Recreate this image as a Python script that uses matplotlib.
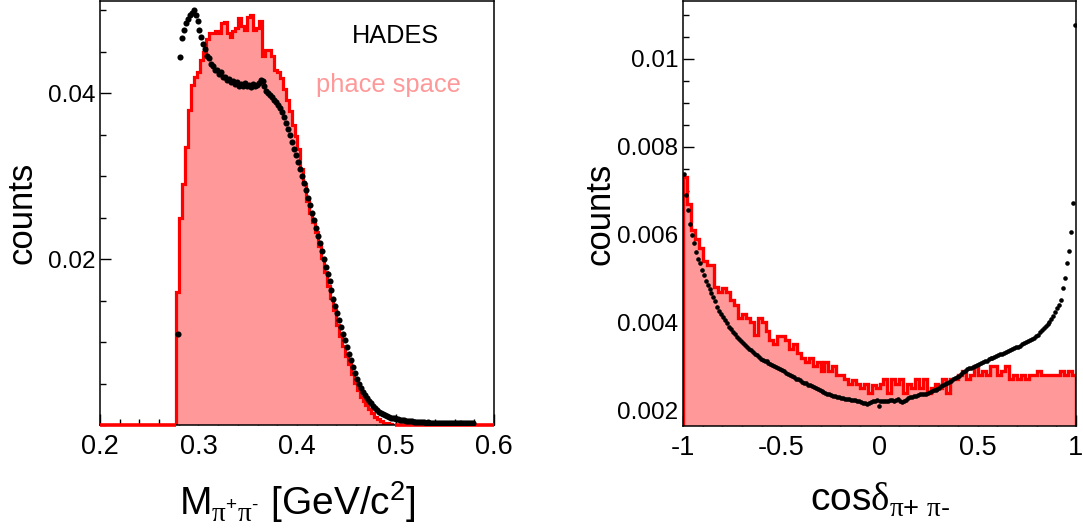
import numpy as np
import matplotlib
matplotlib.use("Agg")
import matplotlib.pyplot as plt
from matplotlib.ticker import MultipleLocator, FixedLocator, FuncFormatter

plt.rcParams['font.family'] = ['Liberation Sans', 'DejaVu Sans']
plt.rcParams['mathtext.fontset'] = 'custom'
plt.rcParams['mathtext.rm'] = 'Liberation Sans'
plt.rcParams['mathtext.it'] = 'Liberation Sans:italic'
plt.rcParams['mathtext.sf'] = 'Liberation Serif'

# ---------------- data: left panel (invariant mass) ----------------
mass_ps_start = 0.2775      # first bin edge of phase-space histogram
mass_ps_width = 0.003       # bin width
mass_ps = [
    0.0160, 0.0250, 0.0290, 0.0335, 0.0380, 0.0410, 0.0420, 0.0425, 0.0440, 0.0450,
    0.0465, 0.0472, 0.0472, 0.0475, 0.0473, 0.0485, 0.0486, 0.0472, 0.0468, 0.0475,
    0.0478, 0.0490, 0.0481, 0.0476, 0.0492, 0.0494, 0.0476, 0.0478, 0.0487, 0.0445,
    0.0452, 0.0452, 0.0445, 0.0428, 0.0425, 0.0418, 0.0405, 0.0392, 0.0378, 0.0362,
    0.0348, 0.0333, 0.0308, 0.0290, 0.0270, 0.0255, 0.0245, 0.0232, 0.0216, 0.0201,
    0.0184, 0.0168, 0.0153, 0.0138, 0.0121, 0.0107, 0.0095, 0.0083, 0.0073, 0.0062,
    0.0051, 0.0042, 0.0034, 0.0029, 0.0024, 0.0019, 0.0014, 0.0010, 0.0007, 0.0005,
    0.0003, 0.0002, 0.0001, 0.0000,
]
mass_data_start = 0.279     # centre of first data bin
mass_data_step = 0.002
mass_data = [
    0.0110, 0.0443, 0.0466, 0.0476, 0.0485, 0.0489, 0.0494, 0.0497, 0.0500, 0.0494,
    0.0487, 0.0476, 0.0468, 0.0459, 0.0453, 0.0445, 0.0442, 0.0435, 0.0433, 0.0428,
    0.0428, 0.0423, 0.0425, 0.0420, 0.0420, 0.0416, 0.0417, 0.0413, 0.0415, 0.0411,
    0.0413, 0.0409, 0.0411, 0.0408, 0.0412, 0.0409, 0.0410, 0.0407, 0.0411, 0.0408,
    0.0410, 0.0412, 0.0416, 0.0414, 0.0409, 0.0402, 0.0400, 0.0398, 0.0395, 0.0392,
    0.0389, 0.0386, 0.0382, 0.0377, 0.0371, 0.0364, 0.0357, 0.0349, 0.0341, 0.0333,
    0.0325, 0.0317, 0.0309, 0.0300, 0.0292, 0.0283, 0.0274, 0.0265, 0.0256, 0.0247,
    0.0238, 0.0228, 0.0219, 0.0210, 0.0200, 0.0191, 0.0182, 0.0174, 0.0163, 0.0152,
    0.0143, 0.0135, 0.0126, 0.0118, 0.0110, 0.0102, 0.0094, 0.0086, 0.0078, 0.0070,
    0.0063, 0.0056, 0.0050, 0.0045, 0.0040, 0.0036, 0.0032, 0.0029, 0.0026, 0.0023,
    0.0020, 0.0018, 0.0016, 0.0014, 0.0013, 0.0012, 0.0011, 0.0010, 0.0009, 0.0008,
    0.0008, 0.0007, 0.0007, 0.0006, 0.0006, 0.0006, 0.0005, 0.0005, 0.0005, 0.0005,
    0.0004, 0.0004, 0.0004, 0.0004, 0.0004, 0.0004, 0.0003, 0.0004, 0.0003, 0.0003,
    0.0003, 0.0003, 0.0003, 0.0003, 0.0003, 0.0002, 0.0003, 0.0002, 0.0003, 0.0002,
    0.0002, 0.0002, 0.0002, 0.0002, 0.0002, 0.0002, 0.0002, 0.0002, 0.0002, 0.0002,
    0.0003,
]
mass_ticks = [0.2, 0.3, 0.4, 0.5, 0.6]
mass_count_ticks = [0.02, 0.04]

# ---------------- data: right panel (opening angle) ----------------
cos_ps_start = -1.0
cos_ps_width = 0.02
cos_ps = [
    0.0073, 0.0067, 0.0061, 0.0059, 0.0057, 0.0054, 0.0053, 0.0053, 0.0048, 0.0047,
    0.00478, 0.0047, 0.0045, 0.0044, 0.0041, 0.0042, 0.0041, 0.0040, 0.00372, 0.0041,
    0.0040, 0.0038, 0.0036, 0.0035, 0.00368, 0.0037, 0.0036, 0.0034, 0.0035, 0.0033,
    0.0032, 0.0031, 0.00318, 0.0030, 0.0031, 0.0029, 0.0031, 0.0029, 0.0030, 0.0028,
    0.0028, 0.0027, 0.0026, 0.00268, 0.0026, 0.0025, 0.0026, 0.0024, 0.00258, 0.0025,
    0.0026, 0.0027, 0.0024, 0.0027, 0.0026, 0.0027, 0.0024, 0.0026, 0.0025, 0.0027,
    0.0025, 0.0027, 0.0024, 0.0025, 0.0026, 0.0025, 0.0027, 0.0024, 0.0027, 0.0027,
    0.0028, 0.0029, 0.0027, 0.0028, 0.0030, 0.0028, 0.0029, 0.0028, 0.0030, 0.0030,
    0.0028, 0.0029, 0.0030, 0.0027, 0.0028, 0.0027, 0.0028, 0.0027, 0.0028, 0.0028,
    0.0029, 0.0028, 0.0028, 0.0028, 0.0028, 0.0028, 0.0029, 0.0028, 0.0029, 0.0028,
]
cos_data_start = -0.995
cos_data_step = 0.01
cos_data = [
    0.00738, 0.00690, 0.00655, 0.00625, 0.00600, 0.00580, 0.00560, 0.00545, 0.00535, 0.00520,
    0.00508, 0.00495, 0.00485, 0.00476, 0.00466, 0.00458, 0.00448, 0.00436, 0.00425, 0.00420,
    0.00412, 0.00405, 0.00398, 0.00390, 0.00384, 0.00378, 0.00373, 0.00367, 0.00363, 0.00358,
    0.00353, 0.00349, 0.00345, 0.00340, 0.00336, 0.00332, 0.00329, 0.00325, 0.00321, 0.00317,
    0.00315, 0.00313, 0.00311, 0.00308, 0.00306, 0.00303, 0.00301, 0.00298, 0.00296, 0.00293,
    0.00291, 0.00289, 0.00285, 0.00283, 0.00280, 0.00277, 0.00275, 0.00272, 0.00270, 0.00268,
    0.00265, 0.00263, 0.00261, 0.00258, 0.00257, 0.00255, 0.00252, 0.00250, 0.00248, 0.00246,
    0.00244, 0.00242, 0.00240, 0.00238, 0.00236, 0.00234, 0.00233, 0.00232, 0.00230, 0.00229,
    0.00228, 0.00228, 0.00226, 0.00226, 0.00225, 0.00224, 0.00223, 0.00223, 0.00222, 0.00221,
    0.00219, 0.00217, 0.00216, 0.00215, 0.00217, 0.00218, 0.00220, 0.00222, 0.00224, 0.00210,
    0.00222, 0.00221, 0.00220, 0.00221, 0.00222, 0.00224, 0.00223, 0.00221, 0.00224, 0.00226,
    0.00221, 0.00219, 0.00220, 0.00224, 0.00227, 0.00229, 0.00230, 0.00232, 0.00233, 0.00234,
    0.00236, 0.00237, 0.00238, 0.00238, 0.00240, 0.00242, 0.00244, 0.00246, 0.00247, 0.00249,
    0.00251, 0.00254, 0.00257, 0.00260, 0.00262, 0.00264, 0.00267, 0.00270, 0.00273, 0.00276,
    0.00279, 0.00283, 0.00286, 0.00290, 0.00293, 0.00295, 0.00297, 0.00299, 0.00301, 0.00303,
    0.00305, 0.00307, 0.00309, 0.00311, 0.00313, 0.00316, 0.00318, 0.00320, 0.00322, 0.00324,
    0.00325, 0.00327, 0.00329, 0.00331, 0.00333, 0.00335, 0.00337, 0.00339, 0.00341, 0.00343,
    0.00345, 0.00347, 0.00350, 0.00353, 0.00355, 0.00358, 0.00360, 0.00362, 0.00365, 0.00368,
    0.00372, 0.00377, 0.00382, 0.00388, 0.00392, 0.00396, 0.00402, 0.00408, 0.00415, 0.00423,
    0.00432, 0.00440, 0.00450, 0.00478, 0.00502, 0.00535, 0.00562, 0.00605, 0.00672, 0.01077,
]
cos_ticks = [-1, -0.5, 0, 0.5, 1]
cos_count_ticks = [0.002, 0.004, 0.006, 0.008, 0.01]

# ---------------- styling ----------------
FILL = '#ff9999'
LINE = '#ff0000'
fmt = FuncFormatter(lambda v, p: '%g' % v)

fig = plt.figure(figsize=(10.83, 5.32), dpi=100)
ax1 = fig.add_axes([100 / 1083, 107 / 532, 394 / 1083, 424 / 532])
ax2 = fig.add_axes([683 / 1083, 106 / 532, 393 / 1083, 425 / 532])

for ax in (ax1, ax2):
    ax.set_axisbelow(True)
    ax.tick_params(which='both', direction='in', top=False, right=False)
    ax.tick_params(which='major', length=8, width=1.0)
    ax.tick_params(which='minor', length=4.5, width=1.0)
    ax.tick_params(axis='x', labelsize=19.5, pad=6.5)
    ax.tick_params(axis='y', labelsize=17.5, pad=3.5)
    for s in ax.spines.values():
        s.set_linewidth(1.1)

# ---- left panel ----
edges1 = mass_ps_start + mass_ps_width * np.arange(len(mass_ps) + 1)
ax1.stairs(mass_ps, edges1, fill=True, color=FILL, lw=0, zorder=1.5)
ax1.stairs(mass_ps, edges1, color=LINE, lw=2.3, baseline=0, zorder=2)
ax1.hlines(0, 0.2, edges1[0], color=LINE, lw=2.6, zorder=3, clip_on=False)
ax1.hlines(0, edges1[-1], 0.6, color=LINE, lw=2.6, zorder=3, clip_on=False)
xm = mass_data_start + mass_data_step * np.arange(len(mass_data))
ax1.plot(xm, mass_data, 'o', color='black', ms=4.4, mew=0, zorder=4)

ax1.set_xlim(0.2, 0.6)
ax1.set_ylim(0, 0.0511)
ax1.xaxis.set_major_locator(FixedLocator(mass_ticks))
ax1.xaxis.set_minor_locator(MultipleLocator(0.02))
ax1.xaxis.set_major_formatter(fmt)
ax1.yaxis.set_major_locator(FixedLocator(mass_count_ticks))
ax1.yaxis.set_minor_locator(MultipleLocator(0.005))
ax1.yaxis.set_major_formatter(fmt)

ax1.text(0.456, 0.046, 'HADES', fontsize=18.2, color='black', va='baseline')
ax1.text(0.4197, 0.0401, 'phace space', fontsize=18.4, color=FILL, va='baseline')

ax1.set_xlabel('M$_{\\mathsf{\\pi}^{+}\\mathsf{\\pi}^{\u2010}}$ [GeV/c$^{2}$]', fontsize=28)
ax1.xaxis.set_label_coords(0.5, -0.128)
ax1.xaxis.label.set_va('top')
ax1.set_ylabel('counts', fontsize=25)
ax1.yaxis.set_label_coords(-0.198, 0.5)
ax1.yaxis.label.set_va('center')

# ---- right panel ----
edges2 = cos_ps_start + cos_ps_width * np.arange(len(cos_ps) + 1)
ax2.stairs(cos_ps, edges2, fill=True, color=FILL, lw=0, zorder=1.5)
ax2.stairs(cos_ps, edges2, color=LINE, lw=2.4, baseline=0, zorder=2)
xc = cos_data_start + cos_data_step * np.arange(len(cos_data))
ax2.plot(xc, cos_data, 'o', color='black', ms=3.3, mew=0, zorder=4)

ax2.set_xlim(-1, 1)
ax2.set_ylim(0.00164, 0.01132)
ax2.xaxis.set_major_locator(FixedLocator(cos_ticks))
ax2.xaxis.set_minor_locator(MultipleLocator(0.1))
ax2.xaxis.set_major_formatter(fmt)
ax2.yaxis.set_major_locator(FixedLocator(cos_count_ticks))
ax2.yaxis.set_minor_locator(MultipleLocator(0.0005))
ax2.yaxis.set_major_formatter(fmt)

ax2.set_xlabel('cos$\\mathsf{\\delta}_{\\mathsf{\\pi}\\mathrm{+}\\ \\mathsf{\\pi}\u2010}$', fontsize=28)
ax2.xaxis.set_label_coords(0.5, -0.128)
ax2.xaxis.label.set_va('top')
ax2.set_ylabel('counts', fontsize=25)
ax2.yaxis.set_label_coords(-0.211, 0.5)
ax2.yaxis.label.set_va('center')

fig.savefig('out.png', dpi=100)
